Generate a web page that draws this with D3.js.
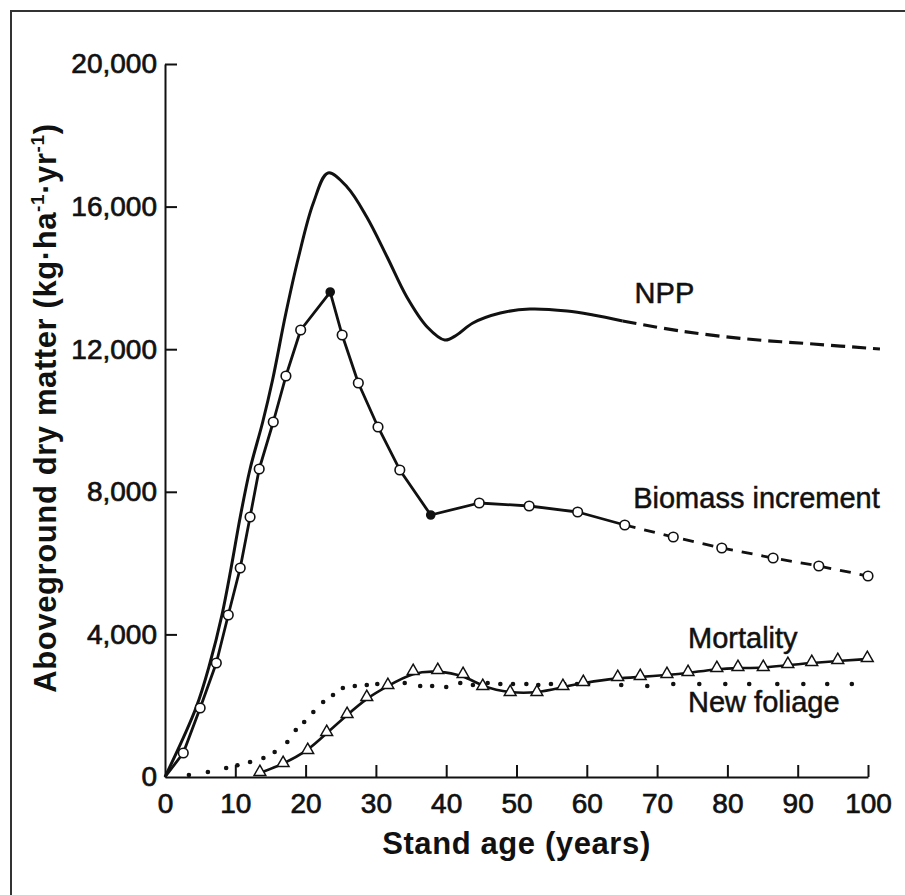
<!DOCTYPE html>
<html>
<head>
<meta charset="utf-8">
<script src="https://cdn.jsdelivr.net/npm/d3@7/dist/d3.min.js"></script>
<style>
  html, body { margin: 0; padding: 0; background: #fff; }
  svg { display: block; }
</style>
</head>
<body>
<div id="chart"></div>
<script>
// values: [stand age (yr), kg/ha/yr]
const npp = [
  [0, 0], [4.4, 1936], [6.4, 3198], [8.1, 4544], [9.4, 5862], [10.7, 7293],
  [12.1, 8640], [13.9, 9958], [15.3, 11136], [17.2, 13015], [19.0, 14586],
  [21.1, 16101], [23.2, 16943], [25.9, 16550], [28.7, 15708], [31.6, 14586],
  [34.4, 13464], [37.3, 12623], [39.8, 12258], [41.5, 12398], [43.8, 12735],
  [47.7, 13015], [51.9, 13128], [57.2, 13072], [60.9, 12959], [65.1, 12791],
  [73.3, 12510], [82.8, 12286], [92.2, 12146], [101.7, 12005]
]
const nppSolidEnd = 65.1

const biomass = [
  [0, 0], [2.6, 673], [5.0, 1936], [7.3, 3198], [9.0, 4544], [10.7, 5862],
  [12.1, 7293], [13.4, 8640], [15.4, 9958], [17.2, 11248], [19.3, 12539],
  [23.5, 13604], [25.2, 12398], [27.5, 11052], [30.3, 9818], [33.4, 8612],
  [37.8, 7349], [44.7, 7686], [51.8, 7602], [58.7, 7433], [65.4, 7069],
  [72.3, 6732], [79.2, 6424], [86.5, 6143], [93.0, 5919], [100, 5638]
]
const biomassSolidEnd = 65.4
const biomassFilled = [23.5, 37.8]

const mortality = [
  [13.5, 112], [16.8, 365], [20.3, 729], [23.0, 1234], [25.9, 1739], [28.7, 2216],
  [31.7, 2553], [35.3, 2945], [38.8, 2973], [42.4, 2861], [45.2, 2525], [49.1, 2356],
  [52.9, 2356], [56.6, 2525], [59.5, 2637], [64.4, 2777], [67.6, 2805], [71.4, 2861],
  [74.4, 2917], [78.5, 3030], [81.5, 3058], [85.1, 3058], [88.6, 3142], [92.0, 3198],
  [95.7, 3254], [99.9, 3310]
]

const newFoliage = [
  [3.4, 56], [6.1, 140], [8.7, 252], [10.3, 330], [12.1, 421], [14.0, 533],
  [15.6, 701], [17.4, 982], [18.6, 1318], [19.8, 1543], [21.1, 1823], [22.5, 2104],
  [23.9, 2300], [25.3, 2496], [27.0, 2553], [28.7, 2581], [30.2, 2609], [31.7, 2581],
  [34.1, 2637], [36.3, 2553], [38.0, 2553], [40.0, 2525], [42.0, 2637], [43.8, 2581],
  [45.9, 2637], [47.7, 2609], [49.5, 2609], [51.4, 2609], [53.1, 2581], [54.9, 2609],
  [56.8, 2609], [58.6, 2609], [60.2, 2609], [64.9, 2581], [68.6, 2553], [72.3, 2609],
  [76.0, 2609], [79.7, 2609], [83.1, 2609], [87.1, 2609], [90.8, 2609], [94.2, 2609],
  [97.7, 2609]
]

const xTicks = [0, 10, 20, 30, 40, 50, 60, 70, 80, 90, 100]
const yTicks = [0, 4000, 8000, 12000, 16000, 20000]

const seriesLabels = [
  { text: 'NPP', at: [66.8, 13290] },
  { text: 'Biomass increment', at: [66.6, 7540] },
  { text: 'Mortality', at: [74.4, 3630] },
  { text: 'New foliage', at: [74.4, 1830] }
]

const W = 905, H = 895
const FONT = '"Liberation Sans", Arial, Helvetica, sans-serif'

const svg = d3.select('#chart').append('svg')
  .attr('width', W).attr('height', H)
  .style('background', '#fff')

// ── frame (scanned page border) ───────────────────────────────────────────
svg.append('path')
  .attr('d', `M11,${H} V11 H${W}`)
  .attr('fill', 'none').attr('stroke', '#333').attr('stroke-width', 2)

// ── scales ────────────────────────────────────────────────────────────────
const x = d3.scaleLinear().domain([0, 100]).range([165, 868])
const y = d3.scaleLinear().domain([0, 20000]).range([777, 64])

// ── axes ──────────────────────────────────────────────────────────────────
const yAxis = svg.append('g')
  .attr('transform', `translate(${x(0)},0)`)
  .call(d3.axisLeft(y).tickValues(yTicks).tickSize(-12).tickSizeOuter(0)
    .tickPadding(8).tickFormat(d3.format(',')))
const xAxis = svg.append('g')
  .attr('transform', `translate(0,${y(0)})`)
  .call(d3.axisBottom(x).tickValues(xTicks).tickSize(-12).tickSizeOuter(0)
    .tickPadding(16))

;[xAxis, yAxis].forEach(a => {
  a.select('.domain').attr('stroke', '#111').attr('stroke-width', 2)
  a.selectAll('.tick line').attr('stroke', '#111').attr('stroke-width', 2)
  a.selectAll('.tick text')
    .attr('fill', '#111').attr('stroke', '#111').attr('stroke-width', 0.7)
    .style('font-family', FONT).style('font-size', '28px')
})
xAxis.selectAll('.tick').filter(d => d === 0).select('line').remove()
yAxis.selectAll('.tick').filter(d => d === 0).select('line').remove()

// axis titles
svg.append('text')
  .attr('x', (x(0) + x(100)) / 2).attr('y', 854)
  .attr('text-anchor', 'middle')
  .style('font-family', FONT).style('font-size', '31px').style('font-weight', 'bold')
  .style('letter-spacing', '0.6px')
  .attr('fill', '#111')
  .text('Stand age (years)')

const yTitle = svg.append('text')
  .attr('transform', 'translate(56,408) rotate(-90)')
  .attr('text-anchor', 'middle')
  .style('font-family', FONT).style('font-size', '31px').style('font-weight', 'bold')
  .style('letter-spacing', '0.6px')
  .attr('fill', '#111')
yTitle.append('tspan').text('Aboveground dry matter (kg·ha')
yTitle.append('tspan').attr('dy', -12).style('font-size', '19px').text('-1')
yTitle.append('tspan').attr('dy', 12).text('·yr')
yTitle.append('tspan').attr('dy', -12).style('font-size', '19px').text('-1')
yTitle.append('tspan').attr('dy', 12).text(')')

// ── lines ─────────────────────────────────────────────────────────────────
const smooth = d3.line().x(d => x(d[0])).y(d => y(d[1])).curve(d3.curveCatmullRom.alpha(0.5))
const straight = d3.line().x(d => x(d[0])).y(d => y(d[1]))
const basis = d3.line().x(d => x(d[0])).y(d => y(d[1])).curve(d3.curveBasis)

function drawLine(data, gen, width, dash) {
  svg.append('path')
    .datum(data)
    .attr('d', gen)
    .attr('fill', 'none')
    .attr('stroke', '#111')
    .attr('stroke-width', width)
    .attr('stroke-linejoin', 'round')
    .attr('stroke-dasharray', dash || null)
}

drawLine(npp.filter(d => d[0] <= nppSolidEnd), smooth, 3)
drawLine(npp.filter(d => d[0] >= nppSolidEnd), smooth, 3.2, '14,7')

drawLine(biomass.filter(d => d[0] <= biomassSolidEnd), straight, 2.8)
drawLine(biomass.filter(d => d[0] >= biomassSolidEnd), straight, 2.8, '11,9')

drawLine(mortality, basis, 2.6)

// ── markers ───────────────────────────────────────────────────────────────
svg.append('g').selectAll('circle.foliage')
  .data(newFoliage)
  .join('circle')
  .attr('class', 'foliage')
  .attr('cx', d => x(d[0])).attr('cy', d => y(d[1]))
  .attr('r', 2.3)
  .attr('fill', '#111')

svg.append('g').selectAll('circle.bio')
  .data(biomass.slice(1))
  .join('circle')
  .attr('class', 'bio')
  .attr('cx', d => x(d[0])).attr('cy', d => y(d[1]))
  .attr('r', d => biomassFilled.includes(d[0]) ? 4 : 4.8)
  .attr('fill', d => biomassFilled.includes(d[0]) ? '#111' : '#fff')
  .attr('stroke', '#111')
  .attr('stroke-width', 1.6)

const tri = d3.symbol().type(d3.symbolTriangle).size(60)
svg.append('g').selectAll('path.mort')
  .data(mortality)
  .join('path')
  .attr('class', 'mort')
  .attr('transform', d => `translate(${x(d[0])},${y(d[1]) - 1})`)
  .attr('d', tri)
  .attr('fill', '#fff')
  .attr('stroke', '#111')
  .attr('stroke-width', 1.5)

// ── series labels ─────────────────────────────────────────────────────────
svg.append('g').selectAll('text')
  .data(seriesLabels)
  .join('text')
  .attr('x', d => x(d.at[0])).attr('y', d => y(d.at[1]))
  .style('font-family', FONT).style('font-size', '29px')
  .attr('fill', '#111').attr('stroke', '#111').attr('stroke-width', 0.5)
  .text(d => d.text)
</script>
</body>
</html>
